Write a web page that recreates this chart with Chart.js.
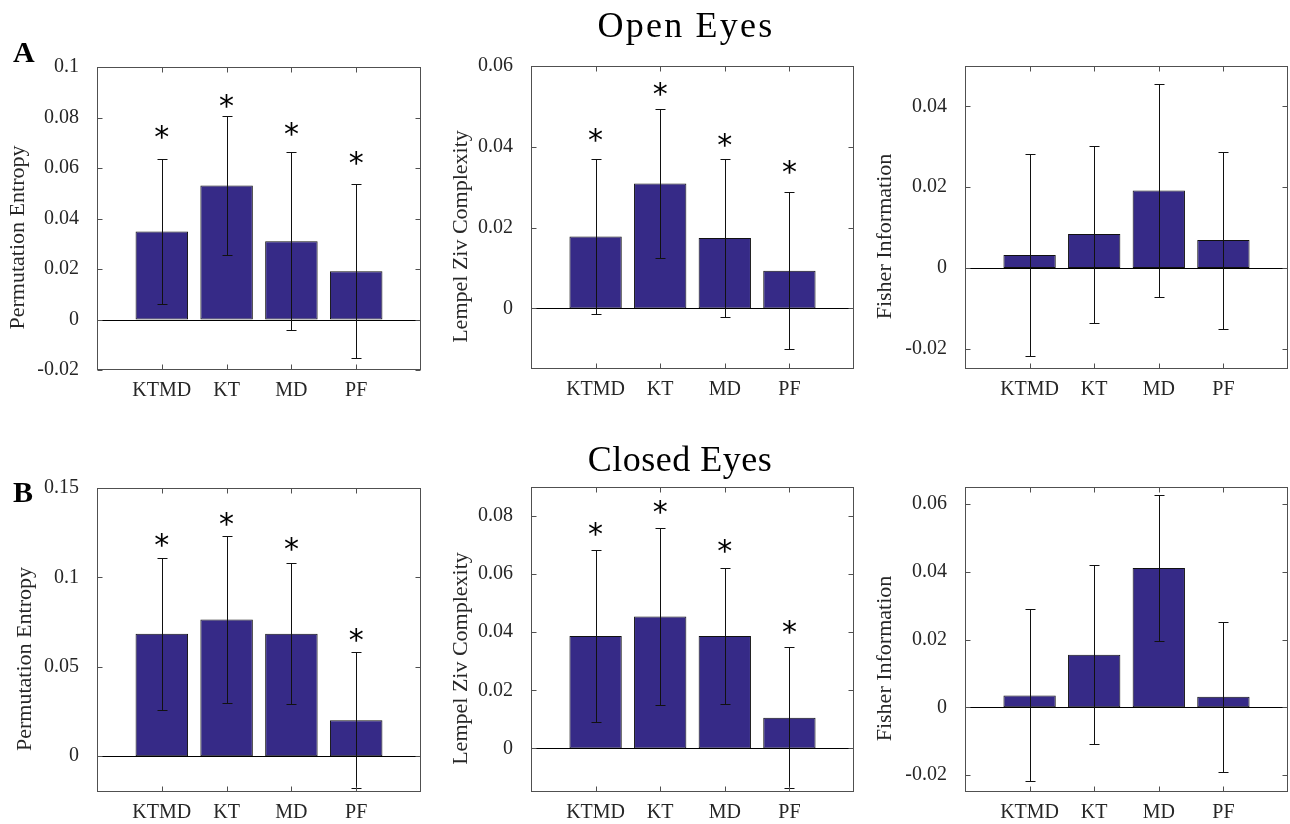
<!DOCTYPE html>
<html><head><meta charset="utf-8">
<script src="https://cdn.jsdelivr.net/npm/chart.js@4.4.1/dist/chart.umd.min.js"></script>
<style>
html,body{margin:0;padding:0;background:#fff;width:1290px;height:824px;overflow:hidden;position:relative;}
.box{position:absolute;}
.title{position:absolute;font-family:'Liberation Serif',serif;font-size:36px;color:#000;white-space:nowrap;line-height:1;transform:translateX(-50%);z-index:5;}
.lab{position:absolute;font-family:'Liberation Serif',serif;font-weight:bold;font-size:30px;line-height:1;color:#000;z-index:5;}
</style></head><body>
<div class="title" style="left:686px;top:7px;letter-spacing:2.2px;">Open Eyes</div>
<div class="title" style="left:680px;top:441px;letter-spacing:0.5px;">Closed Eyes</div>
<div class="lab" style="left:13px;top:37px;">A</div>
<div class="lab" style="left:13px;top:477px;">B</div>
<script>
// ---------- data ----------
const categories = ['KTMD', 'KT', 'MD', 'PF'];

// Open eyes
const openPE      = [0.0349, 0.0531, 0.0310, 0.0191];
const openPEErr   = [0.0286, 0.0275, 0.0352, 0.0344];
const openPEStar  = [0.0742, 0.0867, 0.0756, 0.0640];
const openLZC     = [0.0178, 0.0309, 0.0174, 0.0093];
const openLZCErr  = [0.0191, 0.0184, 0.0195, 0.0194];
const openLZCStar = [0.0428, 0.0542, 0.0416, 0.0350];
const openFI      = [0.0032, 0.0084, 0.0192, 0.0069];
const openFIErr   = [0.0249, 0.0219, 0.0264, 0.0219];

// Closed eyes
const closedPE      = [0.0685, 0.0764, 0.0685, 0.0201];
const closedPEErr   = [0.0425, 0.0465, 0.0395, 0.0380];
const closedPEStar  = [0.1212, 0.1324, 0.1188, 0.0676];
const closedLZC     = [0.0387, 0.0454, 0.0387, 0.0106];
const closedLZCErr  = [0.0296, 0.0305, 0.0235, 0.0242];
const closedLZCStar = [0.0754, 0.0831, 0.0698, 0.0418];
const closedFI      = [0.0035, 0.0155, 0.0411, 0.0031];
const closedFIErr   = [0.0254, 0.0264, 0.0216, 0.0222];

// axis limits and tick labels
const openPERange = [-0.02, 0.1],    openPETicks = [-0.02, 0, 0.02, 0.04, 0.06, 0.08, 0.1];
const openLZCRange = [-0.015, 0.06], openLZCTicks = [0, 0.02, 0.04, 0.06];
const openFIRange = [-0.025, 0.05],  openFITicks = [-0.02, 0, 0.02, 0.04];
const closedPERange = [-0.02, 0.15], closedPETicks = [0, 0.05, 0.1, 0.15];
const closedLZCRange = [-0.015, 0.09], closedLZCTicks = [0, 0.02, 0.04, 0.06, 0.08];
const closedFIRange = [-0.025, 0.065], closedFITicks = [-0.02, 0, 0.02, 0.04, 0.06];

const yTitles = ['Permutation Entropy', 'Lempel Ziv Complexity', 'Fisher Information'];

// ---------- styling / layout ----------
const FONT = "'Liberation Serif', serif";
const TXT = '#262626';
const BAR = 'rgb(54,42,135)';
const EDGE = '#111';
const FRAME = '#505050';
const YW = 100, PT = 30, PR = 10, XH = 40;
const STAR_SIZE = 30;
const STAR_FONT = "'DejaVu Sans', sans-serif";

const panels = [
  {values: openPE, err: openPEErr, stars: openPEStar, range: openPERange, ticks: openPETicks, ylabel: yTitles[0], area: [97, 67, 421, 370], ylabelX: 18},
  {values: openLZC, err: openLZCErr, stars: openLZCStar, range: openLZCRange, ticks: openLZCTicks, ylabel: yTitles[1], area: [531, 66, 854, 369], ylabelX: 461},
  {values: openFI, err: openFIErr, stars: null, range: openFIRange, ticks: openFITicks, ylabel: yTitles[2], area: [965, 66, 1288, 369], ylabelX: 885},
  {values: closedPE, err: closedPEErr, stars: closedPEStar, range: closedPERange, ticks: closedPETicks, ylabel: yTitles[0], area: [97, 488, 421, 792], ylabelX: 25},
  {values: closedLZC, err: closedLZCErr, stars: closedLZCStar, range: closedLZCRange, ticks: closedLZCTicks, ylabel: yTitles[1], area: [531, 487, 854, 792], ylabelX: 461},
  {values: closedFI, err: closedFIErr, stars: null, range: closedFIRange, ticks: closedFITicks, ylabel: yTitles[2], area: [965, 487, 1288, 792], ylabelX: 885}
];

function fmt(v) { return String(parseFloat(Number(v).toFixed(4))); }

function decor(p, cl, k) {
  return {
    id: 'decor' + k,
    afterDatasetsDraw(chart) {
      const ctx = chart.ctx, a = chart.chartArea, ys = chart.scales.y;
      const meta = chart.getDatasetMeta(0);
      ctx.save();
      // zero baseline
      const y0 = Math.round(ys.getPixelForValue(0)) + 0.5;
      ctx.strokeStyle = '#000'; ctx.lineWidth = 1;
      ctx.beginPath(); ctx.moveTo(a.left, y0); ctx.lineTo(a.right, y0); ctx.stroke();
      // error bars
      ctx.strokeStyle = '#111';
      p.values.forEach((v, i) => {
        const cx = Math.round(meta.data[i + 1].x) + 0.5;
        const yt = Math.round(ys.getPixelForValue(v + p.err[i])) + 0.5;
        const yb = Math.round(ys.getPixelForValue(v - p.err[i])) + 0.5;
        ctx.beginPath();
        ctx.moveTo(cx, yt); ctx.lineTo(cx, yb);
        ctx.moveTo(cx - 5, yt); ctx.lineTo(cx + 5, yt);
        ctx.moveTo(cx - 5, yb); ctx.lineTo(cx + 5, yb);
        ctx.stroke();
      });
      // significance stars
      if (p.stars) {
        ctx.fillStyle = '#000';
        ctx.font = STAR_SIZE + 'px ' + STAR_FONT;
        ctx.textAlign = 'center'; ctx.textBaseline = 'alphabetic';
        p.stars.forEach((s, i) => {
          const cx = meta.data[i + 1].x;
          ctx.fillText('*', cx, ys.getPixelForValue(s) + 0.5 * STAR_SIZE);
        });
      }
      // frame and inward ticks
      ctx.strokeStyle = FRAME; ctx.lineWidth = 1;
      const L = Math.round(a.left) + 0.5, R = Math.round(a.right) - 0.5;
      const T = Math.round(a.top) + 0.5, B = Math.round(a.bottom) - 0.5;
      ctx.strokeRect(L, T, R - L, B - T);
      ctx.beginPath();
      p.ticks.forEach(t => {
        const yy = Math.round(ys.getPixelForValue(t)) + 0.5;
        ctx.moveTo(L, yy); ctx.lineTo(L + 5, yy);
        ctx.moveTo(R, yy); ctx.lineTo(R - 5, yy);
      });
      p.values.forEach((v, i) => {
        const xx = Math.round(meta.data[i + 1].x) + 0.5;
        ctx.moveTo(xx, B); ctx.lineTo(xx, B - 5);
        ctx.moveTo(xx, T); ctx.lineTo(xx, T + 5);
      });
      ctx.stroke();
      // y-axis title
      ctx.fillStyle = TXT;
      ctx.font = '22px ' + FONT;
      ctx.textAlign = 'center'; ctx.textBaseline = 'middle';
      ctx.translate(p.ylabelX - cl, (a.top + a.bottom) / 2 + 19);
      ctx.rotate(-Math.PI / 2);
      ctx.fillText(p.ylabel, 0, 0);
      ctx.restore();
    }
  };
}

panels.forEach((p, k) => {
  const [L, T, R, B] = p.area;
  const cl = L - YW, ct = T - PT, w = R - L + YW + PR, h = B - T + PT + XH;
  const div = document.createElement('div');
  div.className = 'box';
  Object.assign(div.style, {left: cl + 'px', top: ct + 'px', width: w + 'px', height: h + 'px'});
  const cv = document.createElement('canvas');
  cv.width = w; cv.height = h; cv.style.width = w + 'px'; cv.style.height = h + 'px';
  div.appendChild(cv); document.body.appendChild(div);
  new Chart(cv, {
    type: 'bar',
    data: {
      labels: ['', ...categories, ''],
      datasets: [{
        data: [null, ...p.values, null],
        backgroundColor: BAR, borderColor: EDGE, borderWidth: 1, borderSkipped: false,
        barPercentage: 0.81, categoryPercentage: 1
      }]
    },
    options: {
      responsive: false, animation: false, devicePixelRatio: 1,
      layout: {padding: {left: 0, top: PT, right: PR, bottom: 0}},
      plugins: {legend: {display: false}, tooltip: {enabled: false}},
      scales: {
        x: {
          offset: false,
          grid: {display: false, drawTicks: false}, border: {display: false},
          ticks: {autoSkip: false, maxRotation: 0, minRotation: 0, padding: 9, color: TXT, font: {family: FONT, size: 20}},
          afterFit(s) { s.height = XH; }
        },
        y: {
          min: p.range[0], max: p.range[1],
          grid: {display: false, drawTicks: false}, border: {display: false},
          afterBuildTicks(s) { s.ticks = p.ticks.map(v => ({value: v})); },
          ticks: {padding: 18, color: TXT, font: {family: FONT, size: 20}, callback: (v) => fmt(v)},
          afterFit(s) { s.width = YW; }
        }
      }
    },
    plugins: [decor(p, cl, k)]
  });
});
</script>
</body></html>
